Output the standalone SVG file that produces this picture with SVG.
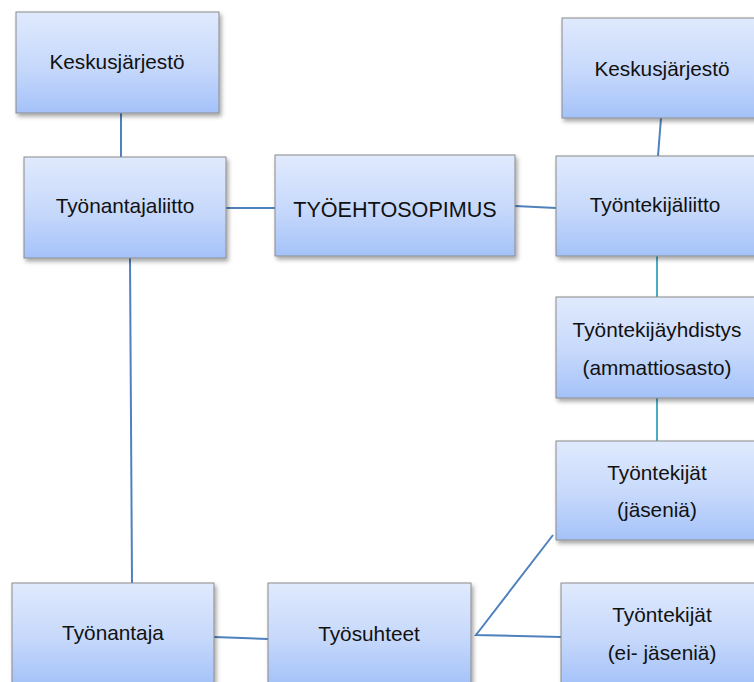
<svg xmlns="http://www.w3.org/2000/svg" width="754" height="682" viewBox="0 0 754 682">
<defs>
<linearGradient id="g" x1="0" y1="0" x2="0" y2="1">
<stop offset="0" stop-color="#e0eafd"/>
<stop offset="0.55" stop-color="#c6d8fb"/>
<stop offset="1" stop-color="#a4c2f9"/>
</linearGradient>
<filter id="sh" x="-10%" y="-10%" width="130%" height="130%">
<feDropShadow dx="2" dy="3" stdDeviation="2" flood-color="#000" flood-opacity="0.35"/>
</filter>
</defs>
<style>
.box{fill:url(#g);stroke:#8a8a8a;stroke-width:1;filter:url(#sh)}
.t{font-family:"Liberation Sans",Arial,sans-serif;font-size:20.8px;fill:#111;text-anchor:middle}
.big{font-size:21.6px}
.c{stroke:#4f81bd;stroke-width:2;fill:none}
.teal{stroke:#4bacc6}
</style>
<rect width="754" height="682" fill="#fff"/>
<g id="connectors">
<line class="c" x1="121" y1="113" x2="121" y2="157"/>
<line class="c" x1="661" y1="118" x2="658" y2="156"/>
<line class="c" x1="226" y1="208" x2="275" y2="208"/>
<line class="c" x1="515" y1="206" x2="556" y2="208"/>
<line class="c teal" x1="657" y1="256" x2="657" y2="297"/>
<line class="c teal" x1="657" y1="398" x2="657" y2="441"/>
<line class="c" x1="130" y1="258" x2="132" y2="583"/>
<line class="c" x1="214" y1="637" x2="268" y2="639"/>
<polyline class="c" points="553,535 476,635 561,637"/>
</g>
<g id="keskus-left">
<rect class="box" x="16" y="12" width="203" height="101"/>
<text class="t" x="117" y="69">Keskusjärjestö</text>
</g>
<g id="tyonantajaliitto">
<rect class="box" x="24" y="157" width="202" height="101"/>
<text class="t" x="125" y="213">Työnantajaliitto</text>
</g>
<g id="tyoehtosopimus">
<rect class="box" x="275" y="155" width="240" height="101"/>
<text class="t big" x="395" y="217">TYÖEHTOSOPIMUS</text>
</g>
<g id="keskus-right">
<rect class="box" x="562" y="18" width="200" height="100"/>
<text class="t" x="662" y="76">Keskusjärjestö</text>
</g>
<g id="tyontekijaliitto">
<rect class="box" x="556" y="156" width="202" height="100"/>
<text class="t" x="655" y="212">Työntekijäliitto</text>
</g>
<g id="tyontekijayhdistys">
<rect class="box" x="556" y="297" width="204" height="101"/>
<text class="t" x="657" y="337">Työntekijäyhdistys</text>
<text class="t" x="657" y="375">(ammattiosasto)</text>
</g>
<g id="tyontekijat-jasenia">
<rect class="box" x="556" y="441" width="204" height="99"/>
<text class="t" x="657" y="480">Työntekijät</text>
<text class="t" x="657" y="517">(jäseniä)</text>
</g>
<g id="tyonantaja">
<rect class="box" x="12" y="583" width="202" height="102"/>
<text class="t" x="113" y="640">Työnantaja</text>
</g>
<g id="tyosuhteet">
<rect class="box" x="268" y="583" width="203" height="102"/>
<text class="t" x="369" y="641">Työsuhteet</text>
</g>
<g id="tyontekijat-ei-jasenia">
<rect class="box" x="561" y="583" width="202" height="102"/>
<text class="t" x="662" y="622">Työntekijät</text>
<text class="t" x="662" y="660">(ei- jäseniä)</text>
</g>
</svg>
